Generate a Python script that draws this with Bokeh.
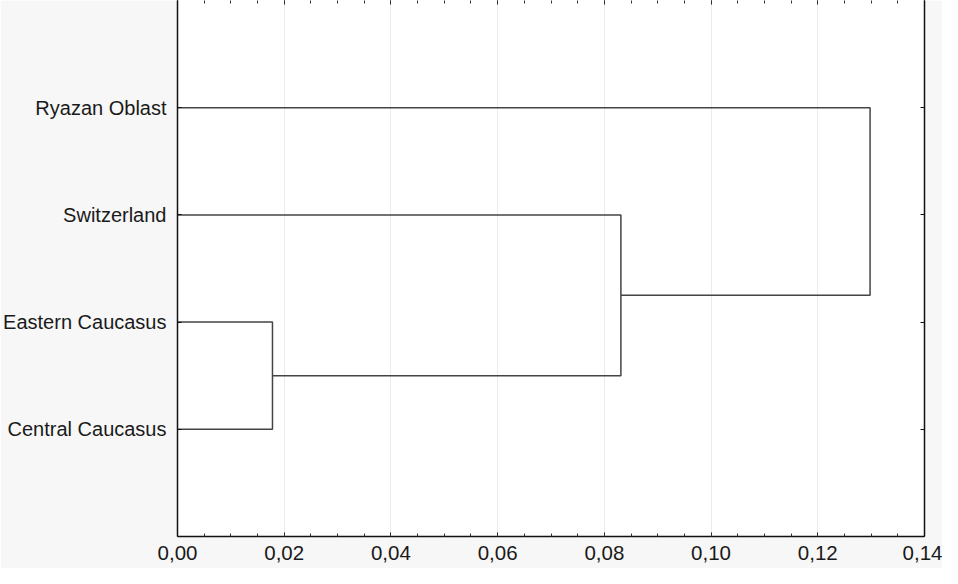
from bokeh.plotting import figure
from bokeh.models import (Range1d, LinearAxis, FixedTicker, SingleIntervalTicker,
                          CustomJSTickFormatter, CustomLabelingPolicy, Grid)
from bokeh.embed import file_html
from bokeh.resources import INLINE

# ---- data ----
leaves = ["Central Caucasus", "Eastern Caucasus", "Switzerland", "Ryazan Oblast"]  # bottom -> top
# merges: (left member, right member, linkage distance); members are leaf names or merge indices
merges = [
    ("Central Caucasus", "Eastern Caucasus", 0.0178),
    (0, "Switzerland", 0.0831),
    (1, "Ryazan Oblast", 0.1298),
]
x_max = 0.14

# ---- build dendrogram segments from the merges ----
node_pos = {name: (0.0, i + 1) for i, name in enumerate(leaves)}
xs, ys = [], []
for k, (a, b, h) in enumerate(merges):
    xa, ya = node_pos[a]
    xb, yb = node_pos[b]
    xs.append([xa, h, h, xb])
    ys.append([ya, ya, yb, yb])
    node_pos[k] = (h, (ya + yb) / 2)

FONT = "Liberation Sans"
p = figure(width=942, height=568, output_backend="svg", toolbar_location=None,
           x_range=Range1d(0, x_max), y_range=Range1d(0, len(leaves) + 1),
           x_axis_location=None, y_axis_location=None,
           min_border_left=174, min_border_right=18, min_border_top=0, min_border_bottom=32)
p.border_fill_color = "#f7f7f7"
p.background_fill_color = "white"
p.outline_line_color = None

p.xgrid.visible = False
p.ygrid.visible = False

ytick = FixedTicker(ticks=list(range(1, len(leaves) + 1)), minor_ticks=[])
xtick = SingleIntervalTicker(interval=0.02, num_minor_ticks=4)
xfmt = CustomJSTickFormatter(code="return tick.toFixed(2).replace('.', ',');")
no_labels = CustomLabelingPolicy(code="""
for (let i = 0; i < indices.size; i++) { indices.unset(i); }
return indices;
""")

g = Grid(dimension=0, ticker=xtick, grid_line_color="#ebebeb", grid_line_width=1)
p.add_layout(g)

p.multi_line(xs=xs, ys=ys, line_color="#444444", line_width=1.5)

def style(ax):
    ax.axis_line_color = "#111111"
    ax.axis_line_width = 1.5
    ax.major_tick_in = 4
    ax.major_tick_out = 0
    ax.minor_tick_in = 3
    ax.minor_tick_out = 0
    ax.major_tick_line_color = "#111111"
    ax.minor_tick_line_color = "#333333"
    ax.major_label_text_font = FONT
    ax.major_label_text_font_size = "20px"
    ax.major_label_text_color = "#1a1a1a"

def hide_labels(ax):
    ax.major_label_policy = no_labels
    ax.major_label_text_font_size = "0px"
    ax.major_label_standoff = 0

left = LinearAxis(ticker=ytick, major_label_overrides={i + 1: n for i, n in enumerate(leaves)})
style(left)
left.major_label_standoff = 11
p.add_layout(left, "left")

right = LinearAxis(ticker=ytick)
style(right)
hide_labels(right)
p.add_layout(right, "right")

bottom = LinearAxis(ticker=xtick, formatter=xfmt)
style(bottom)
bottom.major_label_text_font_size = "20.5px"
bottom.major_label_standoff = 9
p.add_layout(bottom, "below")

top = LinearAxis(ticker=xtick)
style(top)
hide_labels(top)
top.axis_line_color = None
p.add_layout(top, "above")

open("out.html", "w").write(file_html(p, INLINE))
